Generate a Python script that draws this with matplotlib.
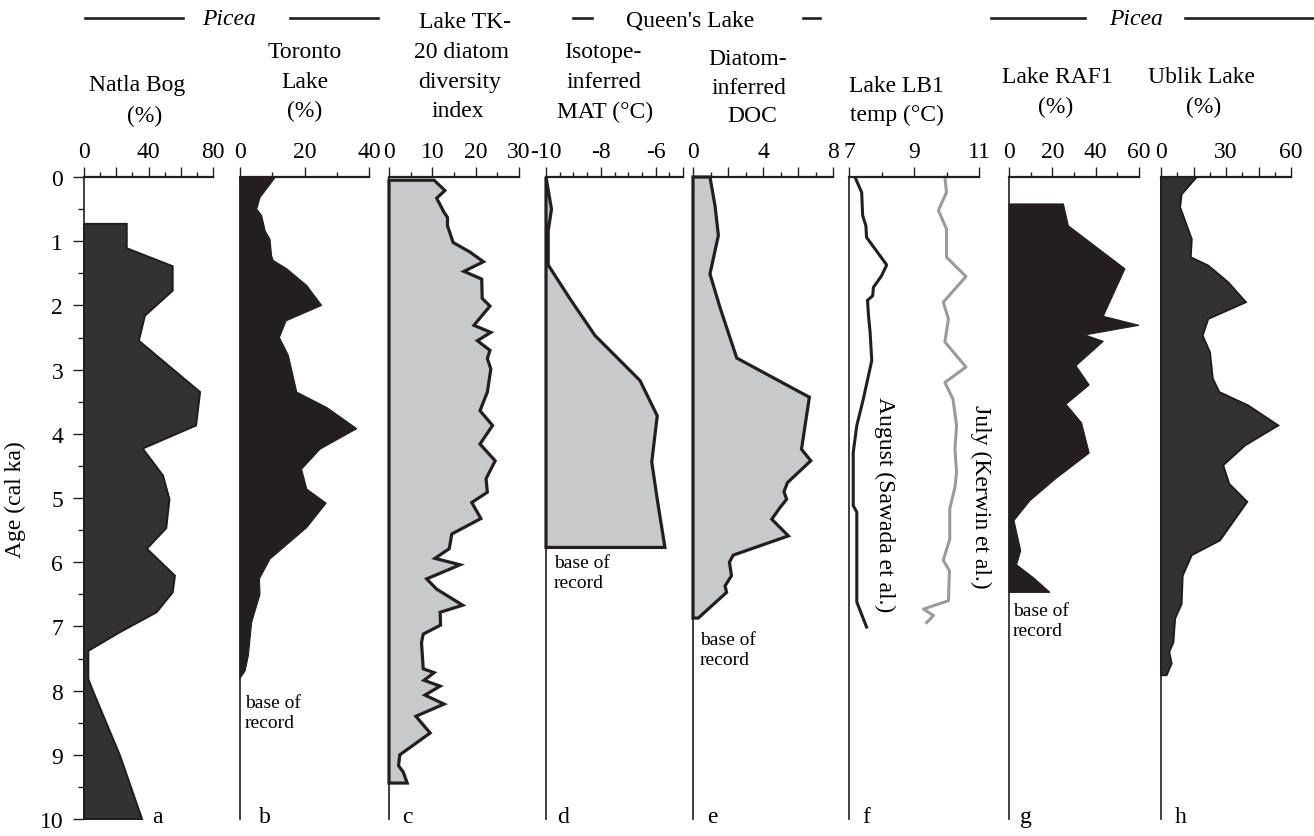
import matplotlib
matplotlib.use("Agg")
import matplotlib.pyplot as plt

plt.rcParams['font.family'] = ['Liberation Serif', 'DejaVu Serif']
plt.rcParams['font.size'] = 17
plt.rcParams['axes.unicode_minus'] = False

# --- records (age in cal ka BP) ---
natla_age = [0.73, 1.11, 1.39, 1.77, 2.16, 2.55, 3.35, 3.87, 4.23, 4.65, 5.02, 5.47,
             5.79, 6.21, 6.47, 6.78, 7.09, 7.38, 7.82, 8.02, 9.01, 10.0]
natla_pct = [26.5, 26.5, 55, 55, 37.8, 34, 72, 69.5, 36.4, 49, 53, 51,
             39, 56.4, 55, 45, 22.3, 2.7, 2.7, 5.8, 22.3, 36]

toronto_age = [0, 0.32, 0.5, 0.6, 0.84, 0.97, 1.23, 1.3, 1.43, 1.69, 2.0, 2.24, 2.5, 2.78,
               3.35, 3.59, 3.92, 4.24, 4.55, 4.86, 5.08, 5.46, 5.95, 6.26, 6.5, 6.94, 7.45,
               7.69, 7.81]
toronto_pct = [11, 6.2, 5.2, 6.7, 7.8, 9.3, 9.8, 10.3, 14.5, 20.7, 25.3, 14.3, 12.2, 15,
               17.6, 26.9, 36.2, 24.8, 19.1, 20.7, 26.7, 20.7, 9.3, 6, 6.2, 3.6, 2.6,
               1.6, 0]

tk20_age = [0.05, 0.21, 0.33, 0.55, 0.63, 0.76, 1.02, 1.17, 1.32, 1.47, 1.59, 1.89,
            2.01, 2.31, 2.42, 2.55, 2.7, 2.83, 2.99, 3.35, 3.64, 3.87, 4.16, 4.42, 4.7,
            4.91, 5.07, 5.32, 5.56, 5.79, 5.94, 6.04, 6.26, 6.42, 6.67, 6.78, 6.98, 7.12,
            7.25, 7.66, 7.72, 7.84, 7.93, 8.07, 8.21, 8.4, 8.66, 9.0, 9.17, 9.27, 9.44]
tk20_idx = [10.4, 12.9, 11, 12.7, 13.5, 13.5, 14.8, 18.7, 21.8, 17.3, 21.4, 21.5,
            23.3, 19.6, 23.5, 20.4, 23.3, 22.7, 23.5, 22.7, 21, 23.9, 21, 24.5, 22.4,
            22.7, 19.1, 21.2, 14.5, 13.9, 10.6, 16.4, 8.7, 11, 17, 11.8, 11.9, 7.9,
            7.5, 7.9, 10.4, 8.1, 11.8, 8.3, 12.7, 6.2, 9.5, 2.5, 2.2, 3.3, 4.2]

mat_age = [0, 0.5, 0.84, 1.37, 1.9, 2.47, 3.17, 3.72, 4.44, 5.02, 5.77]
mat_val = [-10, -9.8, -9.92, -9.92, -9.12, -8.21, -6.57, -5.94, -6.14, -5.94, -5.66]

doc_age = [0, 0.45, 0.91, 1.51, 2.03, 2.82, 3.43, 4.24, 4.42, 4.76, 4.9, 5.02, 5.15,
           5.33, 5.59, 5.89, 6.0, 6.21, 6.37, 6.47, 6.87]
doc_val = [0.97, 1.26, 1.45, 0.97, 1.54, 2.5, 6.65, 6.2, 6.73, 5.4, 5.2, 5.35, 4.97,
           4.5, 5.45, 2.3, 2.08, 2.2, 1.83, 1.92, 0.3]

aug_age = [0.02, 0.24, 0.6, 0.76, 0.94, 1.37, 1.54, 1.72, 1.85, 1.92, 2.16, 2.42, 2.86,
           3.46, 3.87, 4.29, 5.02, 5.12, 5.22, 6.62, 7.01]
aug_temp = [7.2, 7.39, 7.42, 7.52, 7.54, 8.16, 8.0, 7.75, 7.73, 7.57, 7.6, 7.65, 7.7,
            7.44, 7.24, 7.13, 7.13, 7.13, 7.24, 7.24, 7.54]

jul_age = [0, 0.24, 0.52, 0.81, 1.25, 1.55, 1.95, 2.21, 2.57, 2.96, 3.2, 3.46, 3.87,
           4.24, 4.6, 4.83, 5.17, 5.64, 5.97, 6.13, 6.6, 6.73, 6.83, 6.94]
jul_temp = [9.95, 10.0, 9.75, 10.0, 10.0, 10.6, 9.9, 10.06, 9.95, 10.6, 9.95, 10.2, 10.31,
            10.26, 10.31, 10.26, 10.1, 10.1, 9.9, 10.09, 10.06, 9.29, 9.6, 9.39]

raf_age = [0.42, 0.76, 1.43, 2.17, 2.31, 2.46, 2.56, 2.94, 3.24, 3.54, 3.83, 4.3, 4.7,
           5.04, 5.35, 5.82, 6.04, 6.24, 6.47]
raf_pct = [25.1, 27.4, 53.5, 43.5, 60, 35, 43.5, 30.9, 37, 26.3, 33.5, 37, 21.5,
           9.7, 2.3, 5.4, 3.5, 11.2, 18.9]

ublik_age = [0, 0.27, 0.47, 0.97, 1.25, 1.38, 1.64, 1.95, 2.21, 2.47, 2.73, 3.14, 3.35,
             3.56, 3.87, 4.18, 4.49, 4.78, 5.06, 5.66, 5.89, 6.21, 6.65, 6.88, 7.25, 7.4,
             7.58, 7.76]
ublik_pct = [16.5, 9.5, 8.8, 14.2, 13.7, 21.8, 31, 39.2, 21.8, 19.2, 22.6, 23.9, 26.9,
             40.3, 54.1, 38.8, 28.7, 31.5, 39.8, 27.2, 14.2, 10, 9.5, 6.5, 5.7, 3.8,
             4.9, 2.6]

age_ticks = list(range(11))

W, H = 1314, 837
TOP, BOT = 178, 820
INK = '#231f20'
DARK = '#333132'
LIGHT = '#c8c9cb'

fig = plt.figure(figsize=(W / 100, H / 100), dpi=100)


def fx(x):
    return x / W


def fy(y):
    return 1 - y / H


def panel(x0, x1, lim, majors, labels, minors):
    ax = fig.add_axes([fx(x0), fy(BOT), (x1 - x0) / W, (BOT - TOP) / H])
    ax.set_xlim(*lim)
    ax.set_ylim(10, 0)
    ax.patch.set_alpha(0)
    for s in ('right', 'bottom'):
        ax.spines[s].set_visible(False)
    ax.spines['left'].set_linewidth(1.2)
    ax.spines['left'].set_color(INK)
    ax.spines['top'].set_linewidth(1.6)
    ax.spines['top'].set_color(INK)
    ax.xaxis.set_ticks_position('top')
    ax.set_xticks(majors)
    ax.set_xticklabels(labels)
    ax.set_xticks(minors, minor=True)
    ax.tick_params(axis='x', which='major', direction='out', length=7, width=1,
                   pad=4, color=INK)
    ax.tick_params(axis='x', which='minor', direction='out', length=3.5, width=1,
                   color=INK)
    ax.set_yticks([])
    return ax


def profile(ax, ages, vals, base, face, edge, lw):
    xs = [base] + list(vals) + [base]
    ys = [ages[0]] + list(ages) + [ages[-1]]
    ax.fill(xs, ys, facecolor=face, edgecolor=edge, linewidth=lw,
            joinstyle='miter', clip_on=False)


# a  Natla Bog
ax_a = panel(84, 213, (0, 80), [0, 20, 40, 60, 80], ['0', '', '40', '', '80'],
             [10, 30, 50, 70])
profile(ax_a, natla_age, natla_pct, 0, DARK, '#1e1c1d', 1.4)
ax_a.set_yticks(age_ticks)
ax_a.set_yticklabels([str(t) for t in age_ticks])
ax_a.set_yticks([t + 0.5 for t in age_ticks[:-1]], minor=True)
ax_a.tick_params(axis='y', which='major', direction='out', length=8, width=1,
                 pad=7, color=INK)
ax_a.tick_params(axis='y', which='minor', direction='out', length=4.3, width=1,
                 color=INK)

# b  Toronto Lake
ax_b = panel(240, 369, (0, 40), [0, 20, 40], ['0', '20', '40'], [10, 30])
profile(ax_b, toronto_age, toronto_pct, 0, INK, INK, 0.8)

# c  Lake TK-20 diversity
ax_c = panel(389, 519, (0, 30), [0, 10, 20, 30], ['0', '10', '20', '30'],
             [5, 15, 25])
profile(ax_c, tk20_age, tk20_idx, 0, LIGHT, INK, 2.3)

# d  Queen's Lake isotope MAT
ax_d = panel(546, 683, (-10, -5), [-10, -8, -6, -5], ['-10', '-8', '-6', ''],
             [-9.5, -9, -8.5, -7.5, -7, -6.5, -5.5])
profile(ax_d, mat_age, mat_val, -10, LIGHT, INK, 2.3)

# e  Queen's Lake DOC
ax_e = panel(693, 833, (0, 8), [0, 2, 4, 6, 8], ['0', '', '4', '', '8'], [1, 3, 5, 7])
profile(ax_e, doc_age, doc_val, 0, LIGHT, INK, 2.3)

# f  Lake LB1 temperatures
ax_f = panel(849, 979, (7, 11), [7, 9, 11], ['7', '9', '11'], [8, 10])
ax_f.plot(aug_temp, aug_age, color=INK, lw=2.2, clip_on=False)
ax_f.plot(jul_temp, jul_age, color='#9a9b9d', lw=2.2, clip_on=False)

# g  Lake RAF1
ax_g = panel(1009, 1139, (0, 60), [0, 20, 40, 60], ['0', '20', '40', '60'],
             [10, 30, 50])
profile(ax_g, raf_age, raf_pct, 0, INK, INK, 0.8)

# h  Ublik Lake
ax_h = panel(1161, 1291, (0, 60), [0, 15, 30, 45, 60], ['0', '', '30', '', '60'],
             [7.5, 22.5, 37.5, 52.5])
profile(ax_h, ublik_age, ublik_pct, 0, DARK, '#1e1c1d', 1.4)

# column headings
titles = [
    ([(137, 91, 'Natla Bog'), (145, 122, '(%)')]),
    ([(305, 58, 'Toronto'), (305, 88, 'Lake'), (305, 117, '(%)')]),
    ([(465, 28, 'Lake TK-'), (462, 58, '20 diatom'), (460, 88, 'diversity'),
      (458, 117, 'index')]),
    ([(603, 58, 'Isotope-'), (604, 88, 'inferred'), (605, 118, 'MAT (°C)')]),
    ([(748, 65, 'Diatom-'), (749, 94, 'inferred'), (752, 122, 'DOC')]),
    ([(896, 92, 'Lake LB1'), (897, 121, 'temp (°C)')]),
    ([(1057, 83, 'Lake RAF1'), (1056, 113, '(%)')]),
    ([(1202, 83, 'Ublik Lake'), (1204, 113, '(%)')]),
]
for lines in titles:
    for x, y, s in lines:
        fig.text(fx(x), fy(y), s, ha='center', va='baseline')

# group headers
for x0, x1 in [(85, 183), (290, 378), (573, 592), (803, 820), (991, 1085), (1185, 1314)]:
    fig.add_artist(plt.Line2D([fx(x0), fx(x1)], [fy(19), fy(19)], color=INK, lw=1.9))
fig.text(fx(229), fy(25), 'Picea', ha='center', va='baseline', style='italic')
fig.text(fx(1136), fy(25), 'Picea', ha='center', va='baseline', style='italic')
fig.text(fx(690), fy(27), "Queen's Lake", ha='center', va='baseline')

# base-of-record notes
for x, y in [(245, 708), (554, 568), (700, 645), (1013, 616)]:
    fig.text(fx(x), fy(y), 'base of', fontsize=14, va='baseline')
    fig.text(fx(x), fy(y + 20), 'record', fontsize=14, va='baseline')

# LB1 curve labels
fig.text(fx(885), fy(505), 'August (Sawada et al.)', rotation=270,
         ha='center', va='center')
fig.text(fx(981), fy(497), 'July (Kerwin et al.)', rotation=270,
         ha='center', va='center')

# panel letters
for x, s in zip([152, 259, 402, 557, 707, 862, 1020, 1175], 'abcdefgh'):
    fig.text(fx(x), fy(823), s, va='baseline')

fig.text(fx(15), fy(500), 'Age (cal ka)', rotation=90, ha='center', va='center')

fig.savefig('out.png', dpi=100)
